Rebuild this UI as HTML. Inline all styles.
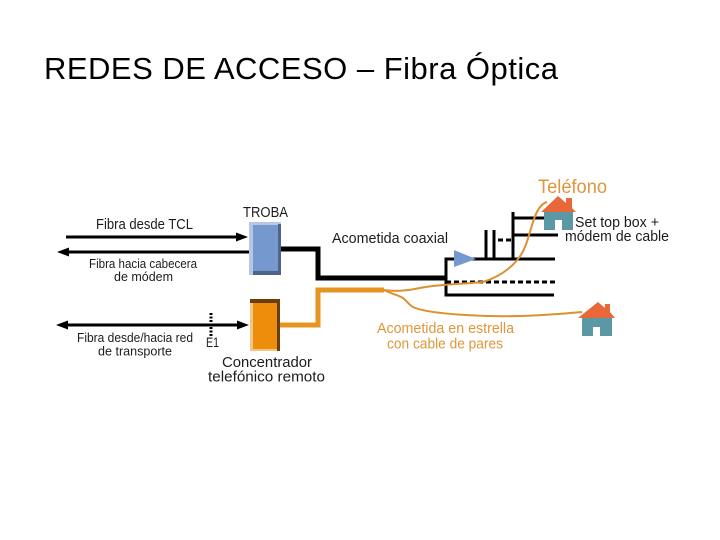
<!DOCTYPE html>
<html>
<head>
<meta charset="utf-8">
<style>
html,body{margin:0;padding:0;background:#fff;width:720px;height:540px;overflow:hidden}
svg{display:block}
text{font-family:"Liberation Sans",sans-serif}
</style>
</head>
<body>
<svg width="720" height="540" viewBox="0 0 720 540" xmlns="http://www.w3.org/2000/svg">
<text x="44" y="79" font-size="31" fill="#000" textLength="514" lengthAdjust="spacing">REDES DE ACCESO – Fibra Óptica</text>

<!-- left arrows -->
<g fill="#000">
<rect x="66" y="235.500" width="172" height="3"/><path d="M248 237 L236 232.500 V241.500Z"/>
<rect x="66" y="250.500" width="184" height="3"/><path d="M57 252 L69 247.500 V256.500Z"/>
<rect x="66" y="323.500" width="174" height="3"/><path d="M249 325 L237 320.500 V329.500Z"/><path d="M56 325 L68 320.500 V329.500Z"/>
</g>
<line x1="211" y1="313" x2="211" y2="336" stroke="#000" stroke-width="3" stroke-dasharray="2 1.500"/>

<!-- TROBA -->
<rect x="249" y="222" width="32" height="53" fill="#b7c7e2"/>
<rect x="253" y="225" width="27" height="46" fill="#7598cf"/>
<rect x="278" y="224" width="3" height="51" fill="#4f6488"/>
<rect x="253" y="271" width="28" height="4" fill="#4f6488"/>

<!-- Concentrador -->
<rect x="250" y="299" width="30" height="52" fill="#f4c583"/>
<rect x="253" y="303" width="25" height="46" fill="#ec8e0c"/>
<rect x="250" y="299" width="30" height="4" fill="#6b3d0c"/>
<rect x="277" y="299" width="3" height="52" fill="#6b3d0c"/>

<!-- connectors -->
<path d="M281 249 H318 V278 H446" fill="none" stroke="#000" stroke-width="5"/>
<path d="M280 325 H318 V290 H384" fill="none" stroke="#e59420" stroke-width="5"/>

<!-- coax tree -->
<g fill="none" stroke="#000">
<path d="M555 259 H446 V295 H554" stroke-width="3"/>
<line x1="446" y1="282" x2="555" y2="282" stroke-width="3" stroke-dasharray="5 3"/>
<line x1="486" y1="230" x2="486" y2="259" stroke-width="3"/>
<line x1="494" y1="230" x2="494" y2="259" stroke-width="3"/>
<line x1="498" y1="240" x2="512" y2="240" stroke-width="3" stroke-dasharray="5 3"/>
<line x1="513" y1="212" x2="513" y2="259" stroke-width="3"/>
<line x1="513" y1="218" x2="546" y2="218" stroke-width="3"/>
<line x1="513" y1="235" x2="558" y2="235" stroke-width="3"/>
</g>
<path d="M454 250 L476 259 L454 267Z" fill="#7598cf"/>

<!-- thin orange curves -->
<g fill="none" stroke="#dd9030" stroke-width="2">
<path d="M384 290 C398 292 410 290 420 288 C440 284 465 284 483 282 C502 276 518 264 525 247 C532 230 534 206 547 202"/>
<path d="M384 290 C392 294 398 295 403 298 C408 302 409 305 413 307 C425 313 460 315 487 316 C520 317 550 315 582 312"/>
</g>

<!-- houses -->
<g>
<path d="M544 212 H573 V230 H562 V220 H555 V230 H544Z" fill="#5b98a6"/>
<path d="M541 212 L558 196 L566 203 V198 H572 V208 L576 212Z" fill="#e8683a"/>
<path d="M582 318 H612 V336 H600 V327 H593 V336 H582Z" fill="#5b98a6"/>
<path d="M578 318 L598 302 L605 308 V304 H610 V312 L615 318Z" fill="#e8683a"/>
</g>

<!-- labels -->
<g fill="#1c1c1c">
<text x="96" y="229" font-size="14.500" textLength="97" lengthAdjust="spacingAndGlyphs">Fibra desde TCL</text>
<text x="243" y="217" font-size="15" textLength="45" lengthAdjust="spacingAndGlyphs">TROBA</text>
<text x="89" y="268" font-size="12.500" textLength="108" lengthAdjust="spacingAndGlyphs">Fibra hacia cabecera</text>
<text x="114" y="281" font-size="12.500" textLength="59" lengthAdjust="spacingAndGlyphs">de módem</text>
<text x="77" y="342" font-size="13" textLength="116" lengthAdjust="spacingAndGlyphs">Fibra desde/hacia red</text>
<text x="98" y="355.500" font-size="13" textLength="74" lengthAdjust="spacingAndGlyphs">de transporte</text>
<text x="206" y="347" font-size="14" textLength="13" lengthAdjust="spacingAndGlyphs">E1</text>
<text x="222" y="367" font-size="15" textLength="90" lengthAdjust="spacingAndGlyphs">Concentrador</text>
<text x="208" y="381.500" font-size="15" textLength="117" lengthAdjust="spacingAndGlyphs">telefónico remoto</text>
<text x="332" y="243" font-size="15" textLength="116" lengthAdjust="spacingAndGlyphs">Acometida coaxial</text>
<text x="575" y="227" font-size="14.500" textLength="84" lengthAdjust="spacingAndGlyphs">Set top box +</text>
<text x="565" y="241" font-size="14.500" textLength="104" lengthAdjust="spacingAndGlyphs">módem de cable</text>
</g>
<g fill="#e0963a">
<text x="538" y="193" font-size="19" textLength="69" lengthAdjust="spacingAndGlyphs">Teléfono</text>
<text x="377" y="333" font-size="14.500" textLength="137" lengthAdjust="spacingAndGlyphs">Acometida en estrella</text>
<text x="387" y="348.500" font-size="14.500" textLength="116" lengthAdjust="spacingAndGlyphs">con cable de pares</text>
</g>
</svg>
</body>
</html>
